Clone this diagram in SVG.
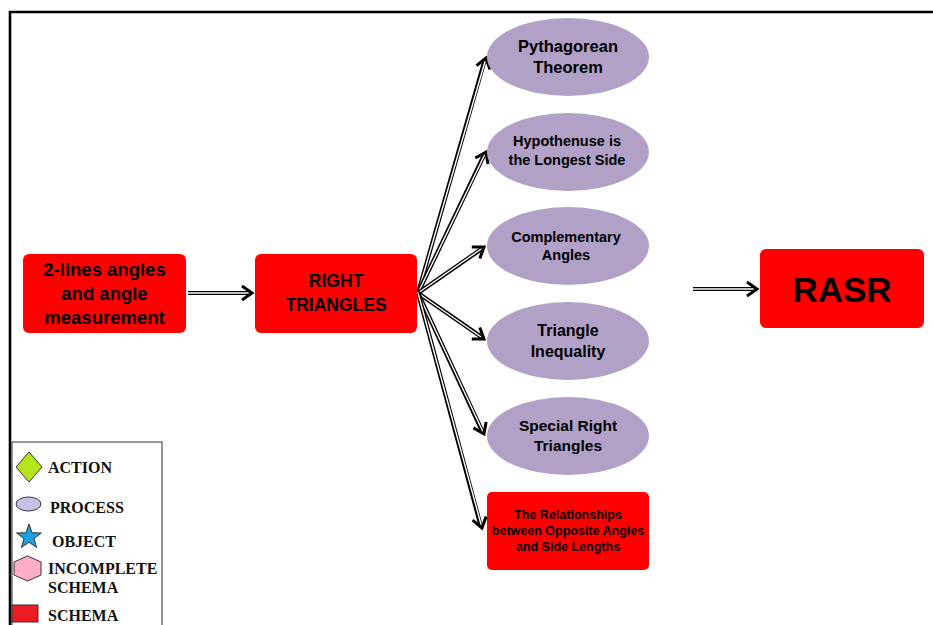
<svg xmlns="http://www.w3.org/2000/svg" width="933" height="625" viewBox="0 0 933 625">
<style>
.schema{fill:#ff0000;}
.proc{fill:#b2a1c7;}
.t{font-family:"Liberation Sans",Arial,sans-serif;font-weight:bold;fill:#000;text-anchor:middle;}
.lg{font-family:"Liberation Serif","Times New Roman",serif;font-weight:bold;font-size:16px;fill:#111;}
.outer{fill:none;stroke:#000;stroke-width:4.2;}
.inner{fill:none;stroke:#fff;stroke-width:1.4;marker-end:url(#chev);}
</style>
<defs>
<marker id="chev" markerUnits="userSpaceOnUse" viewBox="-14 -10 16 20" refX="0" refY="0" markerWidth="16" markerHeight="20" orient="auto" overflow="visible">
<path d="M-10,-7 L0,0 L-10,7" fill="none" stroke="#000" stroke-width="3" stroke-linejoin="miter"/>
</marker>
</defs>
<rect width="933" height="625" fill="#fff"/>
<g id="frame">
<path d="M10,625 V12 H933" fill="none" stroke="#000" stroke-width="2.6"/>
</g>
<g id="connectors">
<path class="outer" d="M188,293 L251,293"/><path class="inner" d="M188,293 L252,293"/>
<path class="outer" d="M693,289 L756,289"/><path class="inner" d="M693,289 L757,289"/>
<path class="outer" d="M418,293 L485,59"/><path class="inner" d="M418,293 L486,58"/>
<path class="outer" d="M418,293 L485,153"/><path class="inner" d="M418,293 L486,152"/>
<path class="outer" d="M418,293 L483,248"/><path class="inner" d="M418,293 L484,247"/>
<path class="outer" d="M418,293 L483,338"/><path class="inner" d="M418,293 L484,339"/>
<path class="outer" d="M418,293 L483,433"/><path class="inner" d="M418,293 L484,434"/>
<path class="outer" d="M418,293 L481,527"/><path class="inner" d="M418,293 L482,528"/>
</g>
<g id="n-lines">
<rect class="schema" x="23" y="254" width="163" height="79" rx="6"/>
<text class="t" font-size="18.5" x="104.5" y="275.5">2-lines angles</text>
<text class="t" font-size="18.5" x="104.5" y="299.5">and angle</text>
<text class="t" font-size="18.5" x="104.5" y="324">measurement</text>
</g>
<g id="n-right">
<rect class="schema" x="255" y="254" width="162" height="79" rx="6"/>
<text class="t" font-size="17.5" x="336" y="287">RIGHT</text>
<text class="t" font-size="17.5" x="336" y="311">TRIANGLES</text>
</g>
<g id="n-rasr">
<rect class="schema" x="760" y="249" width="164" height="79" rx="6"/>
<text class="t" font-size="35" x="842" y="302">RASR</text>
</g>
<g id="n-pyth">
<ellipse class="proc" cx="568" cy="57" rx="81" ry="39"/>
<text class="t" font-size="16.5" x="568" y="51.5">Pythagorean</text>
<text class="t" font-size="16.5" x="568" y="72.5">Theorem</text>
</g>
<g id="n-hyp">
<ellipse class="proc" cx="568" cy="152" rx="81" ry="39"/>
<text class="t" font-size="14.5" x="567" y="146">Hypothenuse is</text>
<text class="t" font-size="14.5" x="567" y="164.5">the Longest Side</text>
</g>
<g id="n-comp">
<ellipse class="proc" cx="568" cy="246" rx="81" ry="39"/>
<text class="t" font-size="14.5" x="566" y="242">Complementary</text>
<text class="t" font-size="14.5" x="566" y="260">Angles</text>
</g>
<g id="n-tri">
<ellipse class="proc" cx="568" cy="341" rx="81" ry="39"/>
<text class="t" font-size="16" x="568" y="335.5">Triangle</text>
<text class="t" font-size="16" x="568" y="356.5">Inequality</text>
</g>
<g id="n-special">
<ellipse class="proc" cx="568" cy="436" rx="81" ry="39"/>
<text class="t" font-size="15.5" x="568" y="430.5">Special Right</text>
<text class="t" font-size="15.5" x="568" y="451">Triangles</text>
</g>
<g id="n-rel">
<rect class="schema" x="487" y="492" width="162" height="78" rx="5"/>
<text class="t" font-size="12.5" x="568" y="519">The Relationships</text>
<text class="t" font-size="12.5" x="568" y="535">between Opposite Angles</text>
<text class="t" font-size="12.5" x="568" y="551">and Side Lengths</text>
</g>
<g id="legend">
<rect x="12" y="442" width="150" height="190" fill="#fff" stroke="#333" stroke-width="1"/>
<path d="M29,452 L42,467 L29,482 L16,467 Z" fill="#b5e61d" stroke="#333" stroke-width="1"/>
<text class="lg" x="48" y="473">ACTION</text>
<ellipse cx="28.5" cy="504" rx="12.5" ry="7" fill="#c8bfe7" stroke="#333" stroke-width="1"/>
<text class="lg" x="50" y="513">PROCESS</text>
<path d="M29,524 L32.06,532.79 L41.36,532.98 L33.95,538.61 L36.64,547.52 L29,542.2 L21.36,547.52 L24.05,538.61 L16.64,532.98 L25.94,532.79 Z" fill="#1ba1e2" stroke="#333" stroke-width="1"/>
<text class="lg" x="52" y="547">OBJECT</text>
<path d="M27.5,556 L41,562 L41,575 L27.5,581 L14,575 L14,562 Z" fill="#ffaec9" stroke="#333" stroke-width="1"/>
<text class="lg" x="48" y="574">INCOMPLETE</text>
<text class="lg" x="48" y="593">SCHEMA</text>
<rect x="12" y="605" width="26" height="17" fill="#ed1c24" stroke="#333" stroke-width="1"/>
<text class="lg" x="48" y="621">SCHEMA</text>
</g>
</svg>
